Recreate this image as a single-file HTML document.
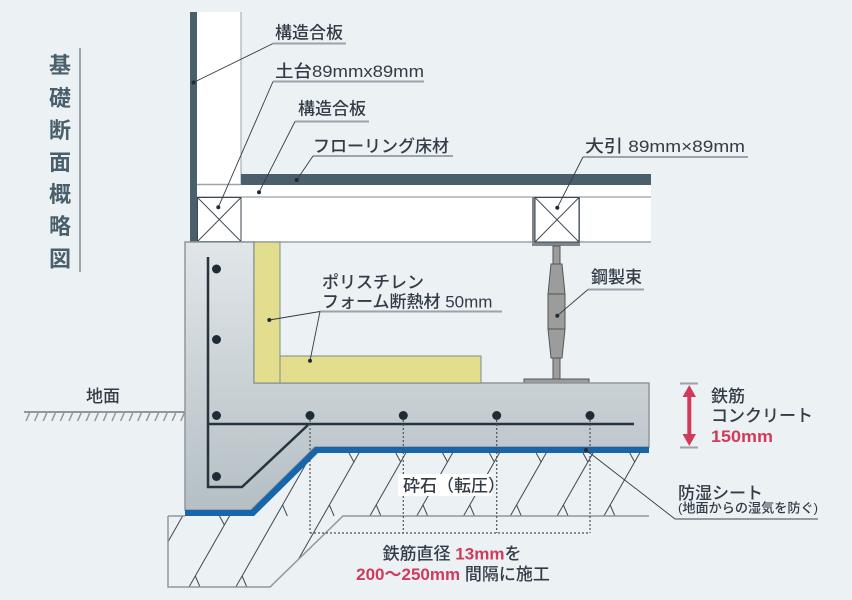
<!DOCTYPE html>
<html><head><meta charset="utf-8">
<style>
html,body{margin:0;padding:0;background:#ecf1f4;}
svg{display:block;}
text{font-family:"Liberation Sans","Noto Sans CJK JP",sans-serif;}
</style></head><body>
<svg width="852" height="600" viewBox="0 0 852 600" xmlns="http://www.w3.org/2000/svg">
<defs>
<linearGradient id="conc" x1="0" y1="242" x2="0" y2="516" gradientUnits="userSpaceOnUse">
<stop offset="0" stop-color="#e1e6e9"/>
<stop offset="1" stop-color="#b4bec3"/>
</linearGradient>
<clipPath id="grav"><polygon points="168,516 185,516 254,516 318,453 649,453 649,516 343,516 270,587 168,587"/></clipPath>
</defs>
<rect width="852" height="600" fill="#ecf1f4"/>

<!-- Title -->
<g font-size="22" font-weight="bold" text-anchor="middle" fill="#4a5f6c">
<text x="60" y="73">基</text>
<text x="60" y="106">礎</text>
<text x="60" y="138">断</text>
<text x="60" y="170">面</text>
<text x="60" y="202">概</text>
<text x="60" y="234">略</text>
<text x="60" y="266.5">図</text>
</g>
<line x1="80" y1="48" x2="80" y2="272" stroke="#9aa4aa" stroke-width="2"/>

<!-- Wall -->
<rect x="197" y="12" width="44" height="172" fill="#fff"/>
<line x1="241" y1="12" x2="241" y2="184" stroke="#9aa4aa" stroke-width="1"/>
<!-- joist band -->
<rect x="197" y="184" width="454" height="58" fill="#fff"/>
<line x1="197" y1="184.5" x2="241" y2="184.5" stroke="#9aa4aa" stroke-width="1.5"/>
<line x1="197" y1="197" x2="651" y2="197" stroke="#7d8891" stroke-width="1"/>
<line x1="197" y1="242" x2="651" y2="242" stroke="#9aa4aa" stroke-width="1.5"/>
<!-- flooring -->
<rect x="241" y="174" width="410" height="11" fill="#4a5f6c"/>
<!-- dark wall plywood -->
<rect x="190" y="12" width="7" height="230" fill="#4a5f6c"/>
<!-- 土台 -->
<rect x="197.5" y="197.5" width="43.5" height="44" fill="none" stroke="#3a4650" stroke-width="1"/>
<line x1="197.5" y1="197.5" x2="241" y2="241.5" stroke="#3a4650" stroke-width="0.9"/>
<line x1="241" y1="197.5" x2="197.5" y2="241.5" stroke="#3a4650" stroke-width="0.9"/>
<!-- 大引 -->
<rect x="532" y="197" width="48" height="49" fill="#80878c"/>
<rect x="535" y="197.5" width="44" height="44.5" fill="#fff" stroke="#3a4650" stroke-width="1"/>
<line x1="535" y1="197.5" x2="579" y2="242" stroke="#3a4650" stroke-width="0.9"/>
<line x1="579" y1="197.5" x2="535" y2="242" stroke="#3a4650" stroke-width="0.9"/>

<!-- Steel post -->
<g fill="#9c9c9c" stroke="#555" stroke-width="1">
<rect x="553" y="246" width="7" height="18"/>
<rect x="553" y="358" width="7" height="21"/>
<polygon points="551,264 562,264 565,294 565,329 562,358 551,358 548,329 548,294"/>
<line x1="548" y1="294" x2="565" y2="294"/>
<line x1="548" y1="329" x2="565" y2="329"/>
<rect x="524" y="379" width="65" height="4"/>
</g>

<!-- Foundation -->
<polygon points="185,242 254,242 254,383 649,383 649,447 315,447 251,510 185,510" fill="url(#conc)" stroke="#8d979d" stroke-width="1.5"/>
<!-- insulation -->
<rect x="254" y="242" width="26" height="141" fill="#e2de8e" stroke="#7e8a8f" stroke-width="1"/>
<rect x="280" y="356" width="201" height="27" fill="#e2de8e" stroke="#7e8a8f" stroke-width="1"/>
<!-- blue membrane -->
<polygon points="185,510 251,510 315,447 649,447 649,453 318,453 254,516 185,516" fill="#1766ab"/>

<!-- Gravel hatching -->
<g clip-path="url(#grav)" stroke="#3c4852" stroke-width="1" fill="none">
<line x1="226" y1="440" x2="134.8" y2="600"/>
<line x1="272.8" y1="440" x2="181.6" y2="600"/>
<line x1="319.6" y1="440" x2="228.4" y2="600"/>
<line x1="366.4" y1="440" x2="275.2" y2="600"/>
<line x1="413.2" y1="440" x2="322" y2="600"/>
<line x1="460" y1="440" x2="368.8" y2="600"/>
<line x1="506.8" y1="440" x2="415.6" y2="600"/>
<line x1="553.6" y1="440" x2="462.4" y2="600"/>
<line x1="600.4" y1="440" x2="509.2" y2="600"/>
<line x1="647.2" y1="440" x2="556" y2="600"/>
<line x1="349" y1="453" x2="353.9" y2="462"/>
<line x1="395.8" y1="453" x2="400.7" y2="462"/>
<line x1="442.6" y1="453" x2="447.5" y2="462"/>
<line x1="489.4" y1="453" x2="494.3" y2="462"/>
<line x1="536.2" y1="453" x2="541.1" y2="462"/>
<line x1="583" y1="453" x2="587.9" y2="462"/>
<line x1="629.8" y1="453" x2="634.7" y2="462"/>
<line x1="376.2" y1="505" x2="380.9" y2="516"/>
<line x1="423" y1="505" x2="427.7" y2="516"/>
<line x1="469.8" y1="505" x2="474.5" y2="516"/>
<line x1="516.6" y1="505" x2="521.3" y2="516"/>
<line x1="563.4" y1="505" x2="568.1" y2="516"/>
<line x1="610.2" y1="505" x2="614.9" y2="516"/>
<line x1="282.6" y1="505" x2="287.3" y2="516"/>
<line x1="329.4" y1="505" x2="334.1" y2="516"/>
<line x1="219.5" y1="516" x2="224.4" y2="525"/>
<line x1="195.3" y1="576" x2="200" y2="587"/>
<line x1="242.1" y1="576" x2="246.8" y2="587"/>
</g>
<polyline points="168,516 168,587 270,587 343,516 649,516" fill="none" stroke="#8d979d" stroke-width="1.5"/>
<line x1="168" y1="516" x2="185" y2="516" stroke="#8d979d" stroke-width="1.5"/>

<!-- Rebar -->
<path d="M208,257 V487 H242 L308,425" fill="none" stroke="#26343f" stroke-width="2.5"/>
<line x1="208" y1="424" x2="634" y2="424" stroke="#26343f" stroke-width="2.5"/>
<g fill="#1f2c36">
<circle cx="216.5" cy="269" r="4.5"/>
<circle cx="216.5" cy="339.5" r="4.5"/>
<circle cx="216.5" cy="415.5" r="4.5"/>
<circle cx="216.5" cy="476.5" r="4.5"/>
<circle cx="310" cy="415.5" r="4.5"/>
<circle cx="403.3" cy="415.5" r="4.5"/>
<circle cx="496.7" cy="415.5" r="4.5"/>
<circle cx="590" cy="415.5" r="4.5"/>
</g>
<!-- dotted -->
<g stroke="#4a535a" stroke-width="1.2" stroke-dasharray="2,2" fill="none">
<line x1="310" y1="420" x2="310" y2="533"/>
<line x1="403.3" y1="420" x2="403.3" y2="533"/>
<line x1="496.7" y1="420" x2="496.7" y2="533"/>
<line x1="590" y1="420" x2="590" y2="533"/>
<line x1="310" y1="533" x2="590" y2="533"/>
</g>

<!-- Ground -->
<line x1="24" y1="412" x2="185" y2="412" stroke="#8d979d" stroke-width="2"/>
<g stroke="#8d979d" stroke-width="1.5">
<line x1="26" y1="421" x2="29.5" y2="413"/><line x1="34.6" y1="421" x2="38.1" y2="413"/>
<line x1="43.2" y1="421" x2="46.7" y2="413"/><line x1="51.8" y1="421" x2="55.3" y2="413"/>
<line x1="60.4" y1="421" x2="63.9" y2="413"/><line x1="69" y1="421" x2="72.5" y2="413"/>
<line x1="77.6" y1="421" x2="81.1" y2="413"/><line x1="86.2" y1="421" x2="89.7" y2="413"/>
<line x1="94.8" y1="421" x2="98.3" y2="413"/><line x1="103.4" y1="421" x2="106.9" y2="413"/>
<line x1="112" y1="421" x2="115.5" y2="413"/><line x1="120.6" y1="421" x2="124.1" y2="413"/>
<line x1="129.2" y1="421" x2="132.7" y2="413"/><line x1="137.8" y1="421" x2="141.3" y2="413"/>
<line x1="146.4" y1="421" x2="149.9" y2="413"/><line x1="155" y1="421" x2="158.5" y2="413"/>
<line x1="163.6" y1="421" x2="167.1" y2="413"/><line x1="172.2" y1="421" x2="175.7" y2="413"/>
<line x1="180.8" y1="421" x2="184.3" y2="413"/>
</g>

<!-- Underlines -->
<g stroke="#9aa4aa" stroke-width="2">
<line x1="273" y1="43.5" x2="346" y2="43.5"/>
<line x1="273" y1="81.5" x2="424" y2="81.5"/>
<line x1="295" y1="121.5" x2="369" y2="121.5"/>
<line x1="313" y1="156" x2="453" y2="156"/>
<line x1="583" y1="157" x2="748" y2="157"/>
<line x1="588" y1="289.5" x2="644" y2="289.5"/>
<line x1="320" y1="311.5" x2="502" y2="311.5"/>
</g>
<line x1="675" y1="519" x2="818" y2="519" stroke="#3a4650" stroke-width="1"/>
<!-- Leaders -->
<g stroke="#2f3b45" stroke-width="0.9">
<line x1="273" y1="43.5" x2="193.5" y2="82.5"/>
<line x1="273" y1="81.5" x2="218.3" y2="207.3"/>
<line x1="295" y1="121.5" x2="259" y2="192.3"/>
<line x1="313" y1="156" x2="296.7" y2="180"/>
<line x1="583" y1="157" x2="557.3" y2="207.7"/>
<line x1="588" y1="289.5" x2="557.3" y2="315.7"/>
<line x1="320" y1="311.5" x2="269.3" y2="320"/>
<line x1="320" y1="311.5" x2="310" y2="360.7"/>
<line x1="675" y1="519" x2="586" y2="450"/>
</g>
<g fill="#1f2c36">
<circle cx="193.5" cy="82.5" r="2"/>
<circle cx="218.3" cy="207.3" r="2"/>
<circle cx="259" cy="192.3" r="2"/>
<circle cx="296.7" cy="180" r="2"/>
<circle cx="557.3" cy="207.7" r="2"/>
<circle cx="557.3" cy="315.7" r="2"/>
<circle cx="269.3" cy="320" r="2"/>
<circle cx="310" cy="360.7" r="2"/>
<circle cx="586" cy="450" r="2"/>
</g>

<!-- Red arrow -->
<line x1="680" y1="383.5" x2="698" y2="383.5" stroke="#9aa4aa" stroke-width="2"/>
<line x1="680" y1="447.5" x2="698" y2="447.5" stroke="#9aa4aa" stroke-width="2"/>
<line x1="689.3" y1="393" x2="689.3" y2="438" stroke="#d23a5c" stroke-width="4"/>
<polygon points="689.3,385 682.5,397 696,397" fill="#d23a5c"/>
<polygon points="689.3,446 682.5,434 696,434" fill="#d23a5c"/>

<!-- 砕石 label box -->
<rect x="398" y="474" width="94" height="22" fill="#ffffff"/>

<!-- Labels -->
<g font-size="17" font-weight="500" fill="#323c46">
<text x="275" y="38.5">構造合板</text>
<text x="275" y="77" textLength="149" lengthAdjust="spacingAndGlyphs">土台89mmx89mm</text>
<text x="298" y="114.5">構造合板</text>
<text x="313" y="152">フローリング床材</text>
<text x="585" y="152" textLength="160" lengthAdjust="spacingAndGlyphs">大引 89mm×89mm</text>
<text x="591" y="283">鋼製束</text>
<text x="322" y="288">ポリスチレン</text>
<text x="322" y="307.5">フォーム断熱材 50mm</text>
<text x="103" y="402" text-anchor="middle">地面</text>
<text x="711" y="402">鉄筋</text>
<text x="711" y="421.5">コンクリート</text>
<text x="711" y="442" font-weight="bold" fill="#d23a5c" textLength="62" lengthAdjust="spacingAndGlyphs">150mm</text>
<text x="678" y="499">防湿シート</text>
<text x="403" y="491.5">砕石（転圧）</text>
<text x="452" y="559.5" text-anchor="middle">鉄筋直径 <tspan font-weight="bold" fill="#d23a5c">13mm</tspan>を</text>
<text x="453" y="580" text-anchor="middle"><tspan font-weight="bold" fill="#d23a5c">200〜250mm</tspan> 間隔に施工</text>
</g>
<text x="678" y="512.5" font-size="13" font-weight="500" fill="#323c46" textLength="140" lengthAdjust="spacingAndGlyphs">(地面からの湿気を防ぐ)</text>
</svg>
</body></html>
